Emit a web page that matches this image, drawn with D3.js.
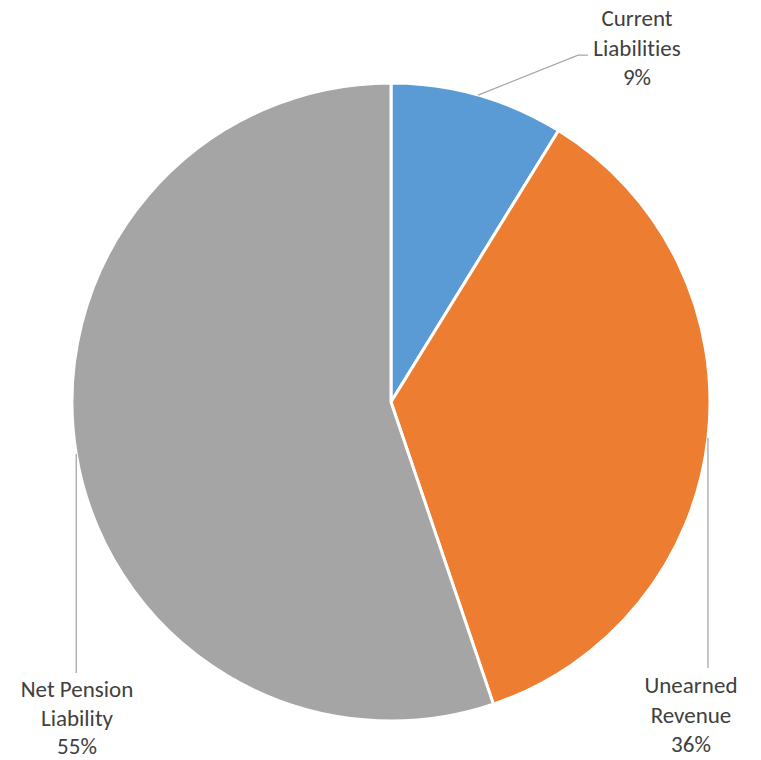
<!DOCTYPE html>
<html><head><meta charset="utf-8">
<script src="https://cdn.jsdelivr.net/npm/d3@7"></script>
<style>body{margin:0;background:#fff}svg{display:block}text{font-variant-ligatures:none}</style>
</head><body>
<script>
const categories = ["Current Liabilities", "Unearned Revenue", "Net Pension Liability"];
const labelLines = [["Current", "Liabilities"], ["Unearned", "Revenue"], ["Net Pension", "Liability"]];
const values = [8.8, 36.0, 55.2];
const colors = ["#5B9BD5", "#ED7D31", "#A5A5A5"];

const W = 761, H = 760, cx = 391, cy = 402, R = 319;
const svg = d3.select("body").append("svg").attr("width", W).attr("height", H);
const g = svg.append("g").attr("transform", `translate(${cx},${cy})`);

const pie = d3.pie().sort(null).value(d => d)(values);
const arc = d3.arc().innerRadius(0).outerRadius(R);
g.selectAll("path.slice").data(pie).join("path")
  .attr("class", "slice")
  .attr("d", arc)
  .attr("fill", (d, i) => colors[i])
  .attr("stroke", "#fff").attr("stroke-width", 3).attr("stroke-linejoin", "round");

const total = d3.sum(values);
// label layout: leader polyline from slice mid-angle on arc to label
const layout = [
  {pts: a => [a, [a[0] + 100, a[1] - 40], [a[0] + 110, a[1] - 40]], tx: 637, ty: 18, lh: 29.5},
  {pts: a => [a, [a[0], a[1] + 230]], tx: 691, ty: 685, lh: 29.5},
  {pts: a => [a, [a[0], a[1] + 219]], tx: 77, ty: 689, lh: 28.5}
];
pie.forEach((d, i) => {
  const m = (d.startAngle + d.endAngle) / 2;
  const a = [R * Math.sin(m), -R * Math.cos(m)];
  const L = layout[i];
  g.append("polyline")
    .attr("points", L.pts(a).map(p => p.join(",")).join(" "))
    .attr("fill", "none").attr("stroke", "#A6A6A6").attr("stroke-width", 1.3);
  const lines = labelLines[i].concat([Math.round(values[i] / total * 100) + "%"]);
  const t = svg.append("text")
    .attr("text-anchor", "middle")
    .attr("font-family", "Carlito, Lato, 'Open Sans', sans-serif")
    .attr("font-size", 23).attr("fill", "#404040");
  lines.forEach((s, k) => {
    t.append("tspan").attr("x", L.tx).attr("y", L.ty + k * L.lh)
      .attr("dominant-baseline", "central").text(s);
  });
});
</script>
</body></html>
